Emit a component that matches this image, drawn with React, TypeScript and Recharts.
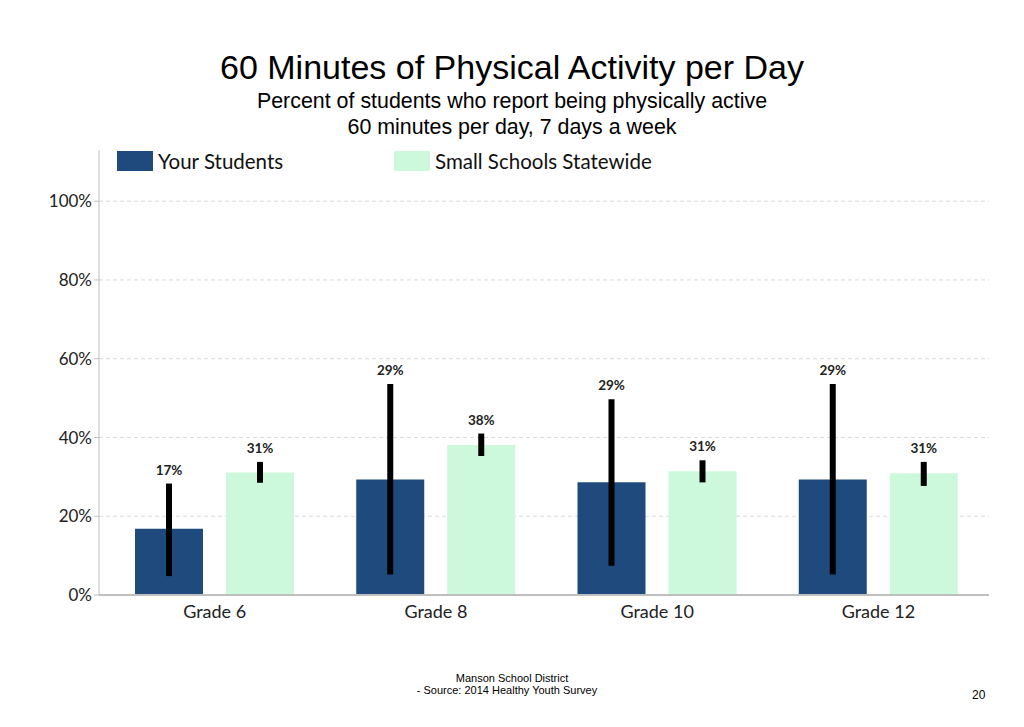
import { BarChart, Bar, XAxis, YAxis, CartesianGrid, ErrorBar, LabelList } from "recharts";

const grades = ["Grade 6", "Grade 8", "Grade 10", "Grade 12"];
const yourStudents = [16.8, 29.3, 28.6, 29.3];
const yourLow = [4.8, 5.2, 7.4, 5.2];
const yourHigh = [28.3, 53.6, 49.7, 53.6];
const statewide = [31.1, 38.1, 31.4, 30.9];
const stateLow = [28.5, 35.3, 28.6, 27.7];
const stateHigh = [33.8, 41.0, 34.2, 33.8];
const yTicks = [0, 20, 40, 60, 80, 100];
const gridValues = [20, 40, 60, 80, 100];

const DARK = "#1F4A7E";
const LIGHT = "#CCF9DB";
const CHART_FONT = "Lato, 'Open Sans', sans-serif";
const SLIDE_FONT = "'Liberation Sans', Arial, sans-serif";

const data = grades.map((g, i) => ({
  grade: g,
  your: yourStudents[i],
  yourErr: [yourStudents[i] - yourLow[i], yourHigh[i] - yourStudents[i]],
  state: statewide[i],
  stateErr: [statewide[i] - stateLow[i], stateHigh[i] - statewide[i]],
}));

// label sits above the top of the error bar, so work out where that is from the bar's own geometry
const makeLabel = (highs: number[]) => (props: any) => {
  const { x, y, width, height, value, index } = props;
  if (!value) return null;
  const perUnit = height / value;
  const top = y + height - highs[index] * perUnit;
  return (
    <text
      x={x + width / 2}
      y={top - 9}
      textAnchor="middle"
      fontSize={13.5}
      fontWeight={700}
      fill="#222"
      fontFamily={CHART_FONT}
    >
      {`${Math.round(value)}%`}
    </text>
  );
};

export default function App() {
  return (
    <div style={{ position: "absolute", left: 0, top: 0, width: 1024, height: 727, background: "#fff" }}>
      <div style={{ position: "absolute", top: 47, width: 1024, textAlign: "center", fontFamily: SLIDE_FONT, color: "#000" }}>
        <div style={{ fontSize: 34, lineHeight: "40px" }}>60 Minutes of Physical Activity per Day</div>
        <div style={{ fontSize: 21.4, lineHeight: "26px", marginTop: 1 }}>Percent of students who report being physically active</div>
        <div style={{ fontSize: 21.4, lineHeight: "26px" }}>60 minutes per day, 7 days a week</div>
      </div>

      <div style={{ position: "absolute", top: 149, left: 117, display: "flex", alignItems: "center", fontFamily: CHART_FONT, fontSize: 20.5, color: "#111" }}>
        <span style={{ width: 36, height: 20, background: DARK, display: "inline-block", marginRight: 5 }} />
        <span style={{ width: 236 }}>Your Students</span>
        <span style={{ width: 36, height: 20, background: LIGHT, display: "inline-block", marginRight: 5 }} />
        <span>Small Schools Statewide</span>
      </div>

      <BarChart
        width={1024}
        height={727}
        data={data}
        margin={{ top: 150, right: 35, bottom: 102, left: 0 }}
        barGap={23}
        barSize={68}
        style={{ position: "absolute", left: 0, top: 0 }}
      >
        <CartesianGrid vertical={false} stroke="#D9D9D9" strokeDasharray="4 3" horizontalValues={gridValues} />
        <XAxis
          dataKey="grade"
          stroke="#BFBFBF"
          strokeWidth={2}
          tickLine={false}
          tickSize={8}
          padding={{ left: 5, right: 0 }}
          tick={{ fill: "#222", fontSize: 18, fontFamily: CHART_FONT }}
          height={30}
        />
        <YAxis
          domain={[0, 113]}
          ticks={yTicks}
          width={99}
          stroke="#BFBFBF"
          tickSize={5}
          tickFormatter={(v) => `${v}%`}
          tick={{ fill: "#222", fontSize: 17, fontFamily: CHART_FONT }}
        />
        <Bar dataKey="your" fill={DARK} isAnimationActive={false}>
          <ErrorBar dataKey="yourErr" width={0} strokeWidth={6} stroke="#000" direction="y" />
          <LabelList dataKey="your" content={makeLabel(yourHigh)} />
        </Bar>
        <Bar dataKey="state" fill={LIGHT} isAnimationActive={false}>
          <ErrorBar dataKey="stateErr" width={0} strokeWidth={6} stroke="#000" direction="y" />
          <LabelList dataKey="state" content={makeLabel(stateHigh)} />
        </Bar>
      </BarChart>

      <div style={{ position: "absolute", top: 672, left: 412, width: 200, textAlign: "center", fontFamily: SLIDE_FONT, fontSize: 11, lineHeight: "12px", color: "#000" }}>
        <div>Manson School District</div>
        <div style={{ whiteSpace: "nowrap", marginLeft: -10 }}>- Source: 2014 Healthy Youth Survey</div>
      </div>
      <div style={{ position: "absolute", top: 688, left: 972, fontFamily: SLIDE_FONT, fontSize: 12, color: "#000" }}>20</div>
    </div>
  );
}
